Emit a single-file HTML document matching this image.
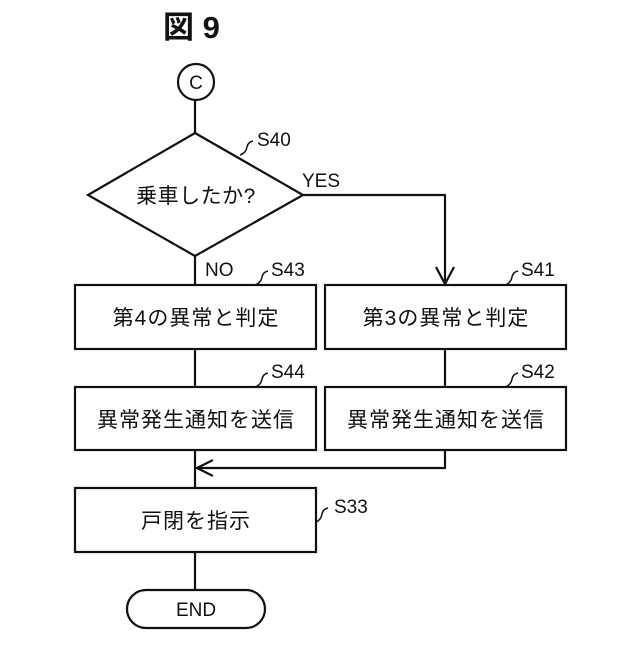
<!DOCTYPE html>
<html><head><meta charset="utf-8"><style>
html,body{margin:0;padding:0;background:#fff;}
svg text{font-family:"Liberation Sans","Noto Sans CJK JP",sans-serif;fill:#111;}
</style></head><body>
<svg width="640" height="640" viewBox="0 0 640 640" xmlns="http://www.w3.org/2000/svg">
<g stroke="#111" stroke-width="2.2" fill="none">
<circle cx="196" cy="82" r="18"/>
<line x1="195" y1="100" x2="195" y2="133"/>
<polygon points="195,133 303,195 195,256 88,195"/>
<line x1="195" y1="256" x2="195" y2="285"/>
<polyline points="303,195 445,195 445,284"/>
<polyline points="436,267 445,284 454,267"/>
<rect x="75" y="285" width="241" height="64"/>
<rect x="325" y="285" width="241" height="64"/>
<line x1="195" y1="349" x2="195" y2="387"/>
<line x1="445" y1="349" x2="445" y2="387"/>
<rect x="75" y="387" width="241" height="63"/>
<rect x="325" y="387" width="241" height="63"/>
<line x1="195" y1="450" x2="195" y2="488"/>
<polyline points="445,450 445,468 197,468"/>
<polyline points="213,460 197,468 213,476"/>
<rect x="75" y="488" width="241" height="64"/>
<line x1="195" y1="552" x2="195" y2="590"/>
<rect x="127" y="590" width="138" height="38" rx="19"/>
<g stroke-width="1.5">
<path d="M240,155 q6,-2 7,-8 q1,-5 6,-6"/>
<path d="M255,285 q6,-2 7,-8 q1,-5 6,-6"/>
<path d="M505,285 q6,-2 7,-8 q1,-5 6,-6"/>
<path d="M255,387 q6,-2 7,-8 q1,-5 6,-6"/>
<path d="M505,387 q6,-2 7,-8 q1,-5 6,-6"/>
<path d="M316,522 q5,-2 6,-8 q1,-5 6,-6"/>
</g>
</g>
<text x="163" y="38" font-size="31" font-weight="bold">図 9</text>
<text x="196" y="89" font-size="19" text-anchor="middle">C</text>
<text x="257" y="146" font-size="19">S40</text>
<text x="302" y="187" font-size="19">YES</text>
<text x="196" y="203" font-size="21" text-anchor="middle" letter-spacing="0.5">乗車したか?</text>
<text x="205" y="276" font-size="19">NO</text>
<text x="271" y="276" font-size="19">S43</text>
<text x="521" y="276" font-size="19">S41</text>
<text x="196" y="325" font-size="21" text-anchor="middle" letter-spacing="1">第4の異常と判定</text>
<text x="446" y="325" font-size="21" text-anchor="middle" letter-spacing="1">第3の異常と判定</text>
<text x="271" y="378" font-size="19">S44</text>
<text x="521" y="378" font-size="19">S42</text>
<text x="196" y="427" font-size="21" text-anchor="middle" letter-spacing="1">異常発生通知を送信</text>
<text x="446" y="427" font-size="21" text-anchor="middle" letter-spacing="1">異常発生通知を送信</text>
<text x="334" y="513" font-size="19">S33</text>
<text x="196" y="528" font-size="21" text-anchor="middle" letter-spacing="1">戸閉を指示</text>
<text x="196" y="616" font-size="19" text-anchor="middle">END</text>
</svg>
</body></html>
